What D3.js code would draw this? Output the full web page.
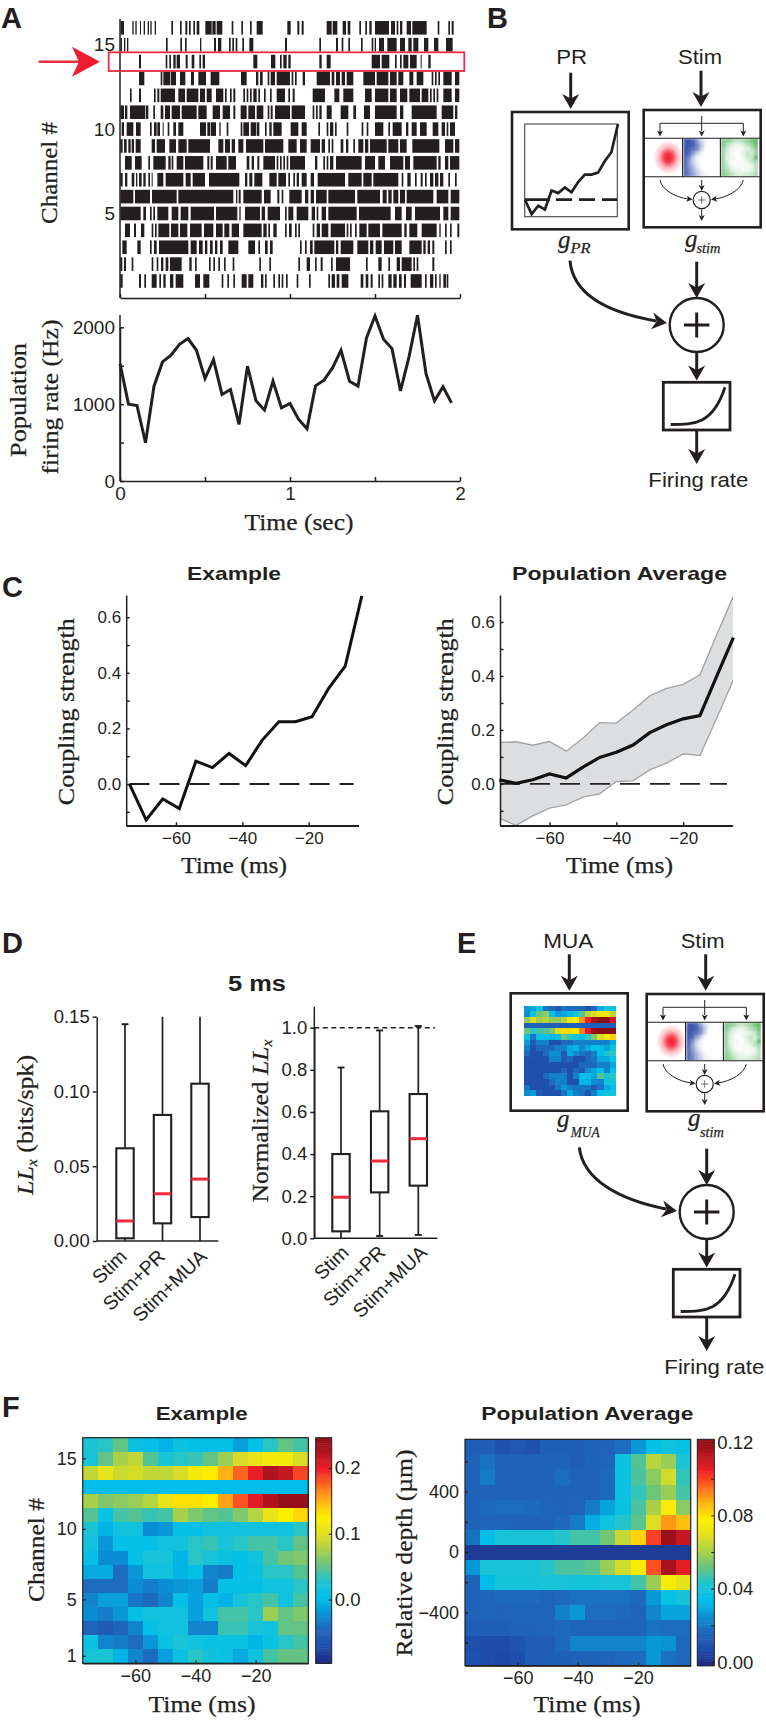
<!DOCTYPE html>
<html>
<head>
<meta charset="utf-8">
<script src="https://cdn.jsdelivr.net/npm/d3@7"></script>
<style>
body { margin: 0; background: #fff; }
svg { display: block; }
</style>
</head>
<body>
<svg id="fig" width="766" height="1720"></svg>
<script>
// raster bursts, start/end sample pairs at 510 Hz, channel 16 first
const SAMPLE_RATE = 510;
const rasterBursts = [
  [2,12,37,41,46,50,60,63,71,75,83,87,91,95,104,108,154,159,180,185,196,202,207,212,220,225,230,238,256,275,277,287,290,307,335,340,364,369,390,395,410,428,502,512,532,538,545,551,620,635,638,652,668,678,683,691,718,723,736,741,748,755,765,807,813,825,830,835,840,847,860,873,877,920,953,958,985,990,995,1001],
  [2,6,12,16,21,25,138,143,181,186,195,200,240,244,282,288,294,304,327,332,337,342,347,352,367,372,388,400,495,501,598,603,648,654,665,670,685,690,723,728,755,760,764,768,777,792,802,830,840,855,865,875,880,895,912,925,942,955,978,998],
  [57,63,137,142,148,153,160,167,170,180,197,203,215,223,238,243,248,255,400,412,453,466,480,485,490,500,505,512,598,605,620,632,755,780,785,808,825,830,840,845,850,865,870,890,902,905,925,932],
  [57,73,122,127,130,150,152,168,180,196,213,222,235,258,272,298,363,380,408,415,420,428,443,448,452,465,470,510,515,520,525,530,548,555,590,630,635,643,648,660,665,675,680,700,730,765,770,805,810,830,835,850,868,880,890,910,935,940,945,950,955,960,970,995,1005,1018],
  [30,35,57,63,102,107,112,118,122,165,175,195,200,235,240,255,260,275,288,310,315,320,330,335,340,346,370,375,380,385,390,395,400,410,415,420,432,437,450,455,470,495,505,510,518,524,578,615,643,658,670,700,735,755,765,805,810,830,840,862,868,900,905,925,930,935,940,945,950,955,970,995,1005,1018],
  [1,12,15,22,30,75,77,85,100,105,122,130,135,150,155,180,185,230,235,260,278,300,308,330,340,346,362,380,385,405,410,430,443,448,452,458,465,510,515,555,578,583,588,593,598,605,620,635,662,685,700,708,732,750,765,830,840,850,875,950,965,1000,1005,1012],
  [5,12,20,40,48,62,90,95,102,110,112,120,128,131,143,148,160,168,175,190,240,258,262,270,272,288,298,302,320,325,362,367,370,387,392,408,410,418,435,440,448,455,460,485,512,535,545,560,595,600,620,625,630,640,645,650,680,685,725,730,740,745,765,790,805,810,818,845,858,865,875,890,900,920,938,955,965,975,980,985,990,1005],
  [1,8,12,20,25,32,35,42,47,62,95,105,110,135,148,168,175,200,205,270,295,310,315,330,335,345,355,370,378,430,435,490,505,530,540,560,572,600,605,615,625,630,635,640,662,670,678,685,700,705,715,730,735,745,750,800,805,835,840,860,877,958,975,1000,1005,1018],
  [15,35,45,65,85,90,100,137,145,152,155,160,170,190,195,250,262,268,272,278,288,320,325,348,380,388,395,402,412,418,430,465,470,475,480,485,490,495,500,505,510,555,585,592,610,615,620,625,630,640,648,725,735,765,775,795,810,850,855,870,880,950,955,962,975,985,990,1018],
  [1,8,15,22,35,43,48,52,57,65,70,77,85,90,95,98,112,130,137,190,197,212,218,255,267,358,375,382,388,397,403,427,448,470,475,498,505,510,520,525,530,537,545,560,572,582,593,675,685,725,730,755,760,835,845,850,862,872,885,890,902,908,915,920,930,940,945,955,960,970,985,990,1005,1010],
  [1,40,45,90,96,170,175,340,348,352,356,362,370,425,432,452,472,478,485,490,508,545,555,565,572,582,588,620,625,705,712,780,788,800,805,815,820,835,840,855,860,940,950,985,992,1018],
  [1,62,70,78,90,95,100,105,112,145,155,175,182,205,212,282,288,352,358,362,375,420,425,435,443,480,495,500,505,520,530,565,575,585,590,595,605,618,625,710,717,812,825,845,858,875,885,960,970,985,992,1018],
  [15,30,42,48,63,73,95,100,105,110,115,148,153,175,180,202,210,245,252,280,288,308,313,328,335,357,370,425,430,440,445,450,460,470,495,500,507,515,525,530,535,540,578,583,590,600,605,625,632,675,680,685,690,695,705,710,718,740,745,780,787,845,853,860,868,892,905,950,958,962,975,980,990,995,1012,1018],
  [7,20,52,62,90,95,102,110,117,205,212,230,237,248,255,262,270,278,285,292,300,308,325,355,385,405,415,420,435,443,450,458,540,545,555,560,570,578,583,643,648,655,662,700,712,745,750,760,767,785,792,820,825,845,868,905,910,917,923,930,937,943,975,980,990,995],
  [1,7,12,18,35,40,95,100,110,115,123,130,137,145,150,185,208,215,225,230,267,272,280,285,295,300,312,317,338,343,418,423,448,453,535,540,560,570,585,590,602,608,633,638,648,690,738,743,775,785,805,810,830,840,845,875,880,885,890,895,937,943],
  [1,8,57,63,73,78,95,110,118,123,130,137,150,160,167,190,225,240,250,268,305,310,322,327,340,345,365,380,385,400,423,430,435,440,460,465,475,480,485,490,498,503,530,535,567,572,625,630,635,645,650,658,665,685,722,730,737,745,752,758,775,780,785,790,805,815,820,830,837,845,852,858,872,905,915,920,930,940,945,950,958,962,970,978,980,985]
];

// population firing rate, one value per 50 ms
const rateTime = d3.range(0, 40).map(i => i * 0.05);
const rateHz = [1528,1000,983,498,1234,1550,1636,1779,1853,1701,1333,1580,1126,1190,736,1494,1043,922,1299,952,1009,805,680,1238,1312,1472,1701,1299,1234,1861,2147,1844,1723,1173,1615,2156,1398,1043,1225,1017];

// coupling strength, example neuron
const couplingExTime = [-74,-69,-64,-59,-54,-49,-44,-39,-34,-29,-24,-19,-14,-9,-4];
const couplingEx = [0,-0.129,-0.054,-0.088,0.082,0.059,0.110,0.066,0.158,0.224,0.224,0.242,0.344,0.424,0.677];

// coupling strength, population
const couplingAvgTime = [-75,-70,-65,-60,-55,-50,-45,-40,-35,-30,-25,-20,-15,-10,-5];
const couplingAvg = [0.015,0.002,0.015,0.037,0.022,0.062,0.098,0.117,0.144,0.19,0.219,0.241,0.253,0.398,0.542];
const couplingHi = [0.153,0.156,0.143,0.157,0.121,0.169,0.227,0.225,0.274,0.326,0.354,0.369,0.404,0.552,0.696];
const couplingLo = [-0.127,-0.154,-0.119,-0.09,-0.078,-0.049,-0.037,0.009,0.011,0.052,0.077,0.111,0.105,0.243,0.385];

// box plots of panel D
const modelNames = ["Stim", "Stim+PR", "Stim+MUA"];
const llTop = [0.145, 0.15, 0.15];
const llQ3 = [0.062, 0.0843, 0.1052];
const llMed = [0.0134, 0.0316, 0.0414];
const llQ1 = [0.0018, 0.0118, 0.016];
const llLow = [0, 0, 0];
const normTop = [0.811, 0.987, 1.008];
const normQ3 = [0.40, 0.603, 0.685];
const normMed = [0.195, 0.367, 0.473];
const normQ1 = [0.033, 0.218, 0.25];
const normLow = [0, 0.011, 0.016];

// heat map time bins (ms, bin centres)
const heatTimes = [-75,-70,-65,-60,-55,-50,-45,-40,-35,-30,-25,-20,-15,-10,-5];

// panel F left, channel 16 first
const heatChannels = [16,15,14,13,12,11,10,9,8,7,6,5,4,3,2,1];
const heatExample = [
  [.025,.03,.05,.01,.005,-.005,.01,.005,.005,.005,-.015,.005,.03,.05,.04],
  [.02,.05,.075,.085,.045,.025,.03,.035,.05,.07,.095,.105,.115,.115,.095],
  [.085,.105,.09,.095,.085,.085,.095,.115,.125,.15,.175,.2,.225,.215,.185],
  [0,0,0,0,0,0,0,0,0,0,0,0,0,0,0],
  [.075,.06,.065,.07,.08,.105,.13,.13,.12,.155,.18,.205,.225,.24,.24],
  [.045,.01,.04,.045,.035,.04,.075,.06,.05,.045,.06,.08,.105,.12,.135],
  [.025,-.005,.015,.015,-.025,-.02,.005,.005,.015,.015,.015,.015,.015,.015,.03],
  [.015,-.02,.005,.005,.005,.015,.015,.03,.035,.02,.03,.04,.04,.03,.05],
  [.005,-.025,-.025,.005,.02,.02,-.005,.03,.02,.01,.005,.015,.04,.055,.06],
  [-.01,-.01,-.045,-.02,.015,.015,-.005,.005,-.03,-.035,.005,.01,.03,.03,.045],
  [-.045,-.045,-.045,-.025,-.035,-.025,-.02,-.015,-.035,.005,.005,.005,.015,.015,.03],
  [-.03,-.015,-.015,-.04,-.045,-.03,.005,-.015,.005,-.005,.02,.03,.04,.015,.04],
  [-.025,-.035,-.02,.005,.015,.015,.015,-.015,.015,.04,.04,.03,.07,.05,.06],
  [-.05,-.06,-.05,-.03,.005,.015,.015,-.03,-.03,.035,.035,.02,.015,.05,.05],
  [.01,-.03,-.035,-.045,-.02,.01,.025,.015,.01,.01,.01,-.005,.01,.03,.04],
  [.02,.025,-.005,-.03,-.045,-.015,.01,.03,.015,.01,-.01,.015,.04,.05,.05]
];

// panel F right, depth in um, top row first
const heatDepths = [700,600,500,400,300,200,100,0,-100,-200,-300,-400,-500,-600,-700];
const heatPopulation = [
  [.013,.012,.008,.010,.008,.013,.013,.013,.014,.014,.017,.026,.035,.038,.036],
  [.014,.018,.014,.014,.014,.014,.014,.012,.014,.015,.037,.049,.062,.058,.042],
  [.014,.020,.014,.014,.014,.014,.017,.014,.014,.016,.037,.048,.056,.066,.045],
  [.014,.014,.014,.014,.014,.014,.014,.014,.014,.016,.037,.045,.052,.058,.047],
  [.014,.016,.017,.017,.016,.015,.014,.015,.020,.028,.036,.048,.060,.075,.056],
  [.014,.015,.015,.014,.014,.014,.016,.020,.030,.038,.043,.050,.068,.090,.085],
  [.018,.034,.041,.041,.041,.041,.043,.047,.047,.053,.064,.082,.100,.118,.110],
  [.002,.002,.002,.002,.002,.002,.002,.002,.002,.002,.002,.002,.002,.002,.002],
  [.026,.041,.041,.041,.041,.043,.048,.048,.050,.058,.066,.076,.098,.115,.106],
  [.014,.033,.040,.040,.040,.041,.041,.040,.040,.041,.041,.047,.058,.075,.070],
  [.014,.015,.016,.016,.016,.015,.016,.018,.018,.018,.018,.016,.026,.036,.040],
  [.014,.015,.014,.015,.015,.015,.021,.026,.017,.017,.016,.015,.022,.028,.028],
  [.013,.013,.013,.014,.014,.015,.016,.015,.015,.015,.015,.015,.018,.017,.017],
  [.007,.006,.006,.009,.012,.012,.016,.022,.022,.022,.022,.022,.026,.025,.016],
  [.008,.006,.005,.007,.012,.012,.013,.014,.014,.015,.016,.017,.026,.018,.016]
];

// receptive field tiles of the schematic
const blueTile = [
  [.9,.9,.8,.5,.2,.05,0,0,.05],[.9,.9,.85,.6,.3,.05,0,0,.05],[.9,.85,.75,.6,.2,0,0,0,0],
  [.9,.8,.5,.25,.05,0,0,0,0],[.85,.6,.25,.05,0,0,0,0,0],[.8,.5,.2,.05,0,0,0,0,0],
  [.8,.55,.3,.1,0,0,0,0,0],[.8,.6,.4,.2,.05,0,0,0,0],[.8,.65,.45,.25,.1,.05,.02,0,0]
];
const greenTile = [
  [.6,.6,.5,.35,.3,.4,.5,.7,.8],[.6,.35,.2,.1,.1,.2,.35,.5,.7],[.5,.25,.1,.05,.05,.1,.15,.3,.6],
  [.5,.2,.05,0,.05,.15,.3,.2,.5],[.5,.15,.1,.05,0,.1,.25,.3,.8],[.5,.2,.05,.02,.05,.05,.1,.3,.4],
  [.5,.3,.1,.02,.05,.05,.05,.1,.35],[.55,.4,.2,.1,.1,.05,.1,.15,.35],[.6,.5,.35,.2,.15,.2,.2,.3,.4]
];

const jetStops = ['#1f2a85','#1f4fae','#1f66bc','#0a90d4','#00bfea','#1cc4d4','#62c384','#a8d04a','#e0e020','#fff000','#ffb812','#ff6a1e','#f02028','#b5141e','#8a0f16'];
const jet = d3.piecewise(d3.interpolateRgb, jetStops);

const INK = "#231f20", RED = "#ee2a3c";
const SANS = "'Liberation Sans', Arial, sans-serif", SERIF = "'Liberation Serif', 'Times New Roman', serif";
const svg = d3.select("#fig");

svg.append("defs").html(`
  <filter id="soft" x="-10%" y="-10%" width="120%" height="120%"><feGaussianBlur stdDeviation="0.9"/></filter>
  <radialGradient id="redSpot"><stop offset="0" stop-color="#ee1c2e"/><stop offset="0.28" stop-color="#f4404e"/><stop offset="0.62" stop-color="#fbbcc2"/><stop offset="1" stop-color="#fff"/></radialGradient>`);

// text helper, len squeezes or stretches the glyphs to the measured width
function label(str, x, y, o = {}) {
  const t = svg.append("text")
    .attr("transform", `translate(${x},${y}) rotate(${o.rotate || 0})`)
    .attr("font-family", o.family || SANS)
    .attr("font-size", o.size || 18)
    .attr("font-weight", o.weight || "normal")
    .attr("font-style", o.italic ? "italic" : "normal")
    .attr("text-anchor", o.anchor || "middle")
    .attr("fill", INK)
    .text(str);
  if (o.family === SERIF) t.attr("stroke", INK).attr("stroke-width", 0.25);
  if (o.len) t.attr("textLength", o.len).attr("lengthAdjust", "spacingAndGlyphs");
  return t;
}

function styleAxis(g, size, width = 1.5) {
  g.selectAll("text").attr("font-family", SANS).attr("font-size", size).attr("fill", INK);
  g.selectAll("line").attr("stroke", INK).attr("stroke-width", width);
  g.select(".domain").attr("stroke", INK).attr("stroke-width", width);
  return g;
}

function addAxis(axis, x, y, size, width) {
  return styleAxis(svg.append("g").attr("transform", `translate(${x},${y})`).call(axis), size, width);
}

// line with a barbed head, head tip sits at (x2,y2)
function head(x, y, angle, size = 1) {
  svg.append("path")
    .attr("d", `M0,0L${-15 * size},${-8.5 * size}L${-10.5 * size},0L${-15 * size},${8.5 * size}Z`)
    .attr("transform", `translate(${x},${y}) rotate(${angle})`)
    .attr("fill", INK);
}
function downArrow(x, y1, y2, width = 3, size = 1) {
  svg.append("line").attr("x1", x).attr("x2", x).attr("y1", y1).attr("y2", y2 - 8 * size)
    .attr("stroke", INK).attr("stroke-width", width);
  head(x, y2, 90, size);
}
function curve(d, width) {
  svg.append("path").attr("d", d).attr("fill", "none").attr("stroke", INK).attr("stroke-width", width);
}
function box(x, y, w, h, width = 2.6) {
  svg.append("rect").attr("x", x).attr("y", y).attr("width", w).attr("height", h)
    .attr("fill", "#fff").attr("stroke", INK).attr("stroke-width", width);
}

/* ---------- panel A ---------- */
label("A", 1, 28, { size: 29, weight: "bold", anchor: "start" });
const xRaster = d3.scaleLinear().domain([0, 2]).range([120, 460]);
const yChannel = d3.scaleLinear().domain([1, 15]).range([281, 44.7]);

rasterBursts.forEach((flat, i) => {
  const ch = 16 - i;
  const pairs = d3.range(0, flat.length, 2).map(k => [flat[k], flat[k + 1]]);
  svg.append("g").selectAll("rect").data(pairs).join("rect")
    .attr("x", d => xRaster(d[0] / SAMPLE_RATE))
    .attr("width", d => xRaster(d[1] / SAMPLE_RATE) - xRaster(d[0] / SAMPLE_RATE))
    .attr("y", yChannel(ch) - 6.8)
    .attr("height", 13.6)
    .attr("fill", INK);
});
svg.append("line").attr("x1", 120).attr("x2", 120).attr("y1", 19).attr("y2", 298).attr("stroke", INK).attr("stroke-width", 1.5);
addAxis(d3.axisBottom(xRaster).tickValues([0, 0.5, 1, 1.5, 2]).tickSizeInner(-4).tickSizeOuter(0).tickFormat(""), 0, 298, 18);
[15, 10, 5].forEach(c => label(c, 115, yChannel(c) + 6.5, { size: 19, anchor: "end" }));
label("Channel #", 57, 173, { size: 24, family: SERIF, rotate: -90, len: 102 });

// red highlight on channel 14
svg.append("rect").attr("x", 108.7).attr("y", 52.3).attr("width", 355.6).attr("height", 18.7)
  .attr("fill", "none").attr("stroke", RED).attr("stroke-width", 1.8);
svg.append("line").attr("x1", 38.7).attr("x2", 80).attr("y1", 61.7).attr("y2", 61.7).attr("stroke", RED).attr("stroke-width", 2.4);
svg.append("path").attr("d", "M0,0L-28,-15L-21,0L-28,15Z").attr("transform", "translate(100,61.7)").attr("fill", "#ee1c2e");

const xRate = d3.scaleLinear().domain([0, 2]).range([120, 460]);
const yRate = d3.scaleLinear().domain([0, 2000]).range([481, 327.3]);
svg.append("line").attr("x1", 120).attr("x2", 120).attr("y1", 315).attr("y2", 481).attr("stroke", INK).attr("stroke-width", 1.5);
addAxis(d3.axisLeft(yRate).tickValues([0, 500, 1000, 1500, 2000]).tickSizeInner(-4).tickSizeOuter(0).tickPadding(5)
  .tickFormat(d => d % 1000 === 0 ? d : ""), 120, 0, 19);
addAxis(d3.axisBottom(xRate).tickValues([0, 0.5, 1, 1.5, 2]).tickSizeInner(-4).tickSizeOuter(0).tickPadding(6)
  .tickFormat(d => d % 1 === 0 ? d : ""), 0, 481, 19);
svg.append("path").attr("fill", "none").attr("stroke", INK).attr("stroke-width", 3).attr("stroke-linejoin", "miter")
  .attr("d", d3.line().x((d, i) => xRate(rateTime[i])).y(d => yRate(d))(rateHz));
label("Population", 26, 400, { size: 23, family: SERIF, rotate: -90, len: 114 });
label("firing rate (Hz)", 58, 397, { size: 23, family: SERIF, rotate: -90, len: 155 });
label("Time (sec)", 299, 530, { size: 23, family: SERIF, len: 109 });

/* ---------- schematic pieces of panels B and E ---------- */
function stimBox(dx, dy) {
  const g = svg.append("g").attr("transform", `translate(${dx},${dy})`);
  g.append("rect").attr("x", 643.7).attr("y", 110).attr("width", 117).attr("height", 117.3)
    .attr("fill", "#fff").attr("stroke", INK).attr("stroke-width", 2.6);

  // tiles
  const tileXs = [645.7, 683.3, 721];
  g.append("ellipse").attr("cx", 668.3).attr("cy", 157.5).attr("rx", 15).attr("ry", 17).attr("fill", "url(#redSpot)");
  [[blueTile, "#2846a8", 1], [greenTile, "#38a844", 2]].forEach(([m, col, k]) => {
    const tx = d3.scaleBand().domain(d3.range(9)).range([tileXs[k], tileXs[k] + 37]);
    const ty = d3.scaleBand().domain(d3.range(9)).range([138.5, 176.5]);
    const shade = d3.interpolateRgb("#fff", col);
    const cp = g.append("clipPath").attr("id", `tile${dx}${k}`);
    cp.append("rect").attr("x", tileXs[k]).attr("y", 138.5).attr("width", 37).attr("height", 38);
    const tile = g.append("g").attr("clip-path", `url(#tile${dx}${k})`).append("g").attr("filter", "url(#soft)");
    m.forEach((row, r) => tile.selectAll(null).data(row).join("rect")
      .attr("x", (d, c) => tx(c)).attr("y", ty(r)).attr("width", tx.bandwidth() + 0.6).attr("height", ty.bandwidth() + 0.6)
      .attr("fill", d => shade(d)));
  });
  g.append("path").attr("d", "M643.7,138.3H760.7M643.7,176.7H760.7M682.6,138.3V176.7M720.4,138.3V176.7")
    .attr("stroke", INK).attr("stroke-width", 1.1).attr("fill", "none");

  // small arrows
  const thin = d => g.append("path").attr("d", d).attr("fill", "none").attr("stroke", INK).attr("stroke-width", 1);
  const tip = (x, y, a) => g.append("path").attr("d", "M0,0L-6,-3L-4.5,0L-6,3Z").attr("transform", `translate(${x},${y}) rotate(${a})`).attr("fill", INK);
  thin("M701.7,116V131M660,132V123.3H743.3V132");
  tip(660, 136.5, 90); tip(701.7, 136.5, 90); tip(743.3, 136.5, 90);
  thin("M701.7,180V186M701.7,209.3V216");
  tip(701.7, 191, 90); tip(701.7, 221, 90);
  thin("M660,180C662,190 675,197 688,199");
  thin("M743.3,180C741,190 728,197 715,199");
  tip(692.5, 199.5, 8); tip(711, 199.5, 172);
  g.append("circle").attr("cx", 701.7).attr("cy", 200).attr("r", 8.6).attr("fill", "#fff").attr("stroke", INK).attr("stroke-width", 1.2);
  g.append("path").attr("d", "M698,200H705.4M701.7,196.3V203.7").attr("stroke", "#666").attr("stroke-width", 0.9);
}

function outputStage(dx, dy, labelDx) {
  downArrow(696.7 + dx, 261.7 + dy, 298 + dy);
  svg.append("circle").attr("cx", 696.7 + dx).attr("cy", 325 + dy).attr("r", 27).attr("fill", "#fff").attr("stroke", INK).attr("stroke-width", 2.4);
  svg.append("path").attr("d", `M${684 + dx},${325 + dy}H${709.4 + dx}M${696.7 + dx},${312.5 + dy}V${337.5 + dy}`).attr("stroke", INK).attr("stroke-width", 3);
  downArrow(696.7 + dx, 352 + dy, 380.5 + dy);
  box(663.3 + dx, 382.3 + dy, 66.7, 47.7, 2.8);
  curve(`M${670.7 + dx},${424.5 + dy}C${695 + dx},${424.5 + dy} ${713 + dx},${424 + dy} ${725 + dx},${387.3 + dy}`, 2.8);
  downArrow(696.7 + dx, 430 + dy, 464 + dy);
  label("Firing rate", 698.3 + labelDx, 486.7 + dy, { size: 21, len: 100 });
}

function gLabel(sub, gx, gy, subx, suby, len) {
  label("g", gx, gy, { family: SERIF, italic: true, size: 25, anchor: "start" });
  label(sub, subx, suby, { family: SERIF, italic: true, size: 15, anchor: "start", len });
}

/* ---------- panel B ---------- */
label("B", 487, 28, { size: 29, weight: "bold", anchor: "start" });
label("PR", 571.7, 64, { size: 20, len: 31 });
label("Stim", 700, 64, { size: 20, len: 44 });
downArrow(570.7, 72.7, 109);
downArrow(701, 70.7, 107);
box(512, 112, 116.7, 117.3);
svg.append("rect").attr("x", 524.7).attr("y", 124).attr("width", 92.6).attr("height", 92.7).attr("fill", "none").attr("stroke", "#444").attr("stroke-width", 1.1);
const xInset = d3.scaleLinear().domain([-74, -4]).range([525, 618]);
const yInset = d3.scaleLinear().domain([0, 0.677]).range([199.7, 124]);
svg.append("line").attr("x1", 525).attr("x2", 617).attr("y1", yInset(0)).attr("y2", yInset(0))
  .attr("stroke", INK).attr("stroke-width", 2.8).attr("stroke-dasharray", "25 6 16 7 16 7 16");
svg.append("path").attr("fill", "none").attr("stroke", INK).attr("stroke-width", 2.7)
  .attr("d", d3.line().x((d, i) => xInset(couplingExTime[i])).y(d => yInset(d))(couplingEx));
stimBox(0, 0);
gLabel("PR", 558, 248, 570.5, 253.3, 20);
gLabel("stim", 685, 246.5, 696.5, 253, 24);
curve("M570,260.7C573,296 610,313 656,321", 3);
head(667, 323, 8);
outputStage(0, 0, 0);

/* ---------- panel C ---------- */
label("C", 2, 597, { size: 29, weight: "bold", anchor: "start" });

const xCoupEx = d3.scaleLinear().domain([-75, -5]).range([126.2, 358.5]);
const yCoupEx = d3.scaleLinear().domain([-0.15, 0.68]).range([825.7, 595]);
const xCoupAvg = d3.scaleLinear().domain([-74.8, -5.2]).range([500, 732.7]);
const yCoupAvg = d3.scaleLinear().domain([-0.155, 0.7]).range([825.7, 595]);

function couplingAxes(x, y, left, right) {
  addAxis(d3.axisLeft(y).tickValues([-0.1, 0, 0.1, 0.2, 0.3, 0.4, 0.5, 0.6]).tickSizeInner(-3.5).tickSizeOuter(0).tickPadding(5)
    .tickFormat(d => Math.round(d * 10) % 2 === 0 ? d3.format(".1f")(d) : ""), left, 0, 17);
  addAxis(d3.axisBottom(x).tickValues([-60, -40, -20]).tickSizeInner(-3.5).tickSizeOuter(0).tickPadding(6), 0, 825.7, 17);
  svg.append("line").attr("x1", x(x.domain()[0])).attr("x2", right).attr("y1", 825.7).attr("y2", 825.7).attr("stroke", INK).attr("stroke-width", 1.5);
}

couplingAxes(xCoupEx, yCoupEx, 126.2, 359);
svg.append("line").attr("x1", xCoupEx(-74)).attr("x2", xCoupEx(-6.5)).attr("y1", yCoupEx(0)).attr("y2", yCoupEx(0))
  .attr("stroke", INK).attr("stroke-width", 2).attr("stroke-dasharray", "20 10");
svg.append("path").attr("fill", "none").attr("stroke", "#111").attr("stroke-width", 3)
  .attr("d", d3.line().x((d, i) => xCoupEx(couplingExTime[i])).y(d => yCoupEx(d))(couplingEx));

const clip = svg.append("clipPath").attr("id", "avgClip");
clip.append("rect").attr("x", 500).attr("y", 595).attr("width", 233).attr("height", 230.7);
const band = svg.append("g").attr("clip-path", "url(#avgClip)");
band.append("path").attr("fill", "#dcdee0")
  .attr("d", d3.area().x((d, i) => xCoupAvg(couplingAvgTime[i])).y0((d, i) => yCoupAvg(couplingLo[i])).y1(d => yCoupAvg(d))(couplingHi));
[couplingHi, couplingLo].forEach(s => band.append("path").attr("fill", "none").attr("stroke", "#a3a5a7").attr("stroke-width", 1.4)
  .attr("d", d3.line().x((d, i) => xCoupAvg(couplingAvgTime[i])).y(d => yCoupAvg(d))(s)));
couplingAxes(xCoupAvg, yCoupAvg, 500, 732.7);
svg.append("line").attr("x1", 500).attr("x2", 727).attr("y1", yCoupAvg(0)).attr("y2", yCoupAvg(0))
  .attr("stroke", INK).attr("stroke-width", 1.8).attr("stroke-dasharray", "20 10");
svg.append("path").attr("fill", "none").attr("stroke", "#111").attr("stroke-width", 3.2)
  .attr("d", d3.line().x((d, i) => xCoupAvg(couplingAvgTime[i])).y(d => yCoupAvg(d))(couplingAvg));

label("Example", 234, 580, { size: 19, weight: "bold", len: 94 });
label("Population Average", 619.5, 580, { size: 19, weight: "bold", len: 215 });
label("Coupling strength", 74, 711.7, { size: 23, family: SERIF, rotate: -90, len: 187 });
label("Coupling strength", 453, 711.7, { size: 23, family: SERIF, rotate: -90, len: 187 });
label("Time (ms)", 234, 873, { size: 23, family: SERIF, len: 106 });
label("Time (ms)", 619.6, 873, { size: 23, family: SERIF, len: 107 });

/* ---------- panel D ---------- */
label("D", 2, 953, { size: 29, weight: "bold", anchor: "start" });
label("E", 457, 953, { size: 29, weight: "bold", anchor: "start" });
label("5 ms", 257, 991, { size: 22, weight: "bold", len: 58 });

function boxPlot(x, y, top, q3, med, q1, low, capTop) {
  modelNames.forEach((m, i) => {
    const cx = x(m), hw = 8.7;
    const g = svg.append("g");
    g.append("line").attr("x1", cx).attr("x2", cx).attr("y1", y(top[i])).attr("y2", y(low[i])).attr("stroke", INK).attr("stroke-width", 1.7);
    if (capTop[i]) g.append("line").attr("x1", cx - 3.5).attr("x2", cx + 3.5).attr("y1", y(top[i])).attr("y2", y(top[i])).attr("stroke", INK).attr("stroke-width", 1.9);
    if (low[i] > 0) g.append("line").attr("x1", cx - 3.5).attr("x2", cx + 3.5).attr("y1", y(low[i])).attr("y2", y(low[i])).attr("stroke", INK).attr("stroke-width", 1.9);
    g.append("rect").attr("x", cx - hw).attr("width", 2 * hw).attr("y", y(q3[i])).attr("height", y(q1[i]) - y(q3[i]))
      .attr("fill", "#fff").attr("stroke", INK).attr("stroke-width", 2.1);
    g.append("line").attr("x1", cx - hw).attr("x2", cx + hw).attr("y1", y(med[i])).attr("y2", y(med[i])).attr("stroke", RED).attr("stroke-width", 3);
  });
}
function catLabels(x, yEnd, dxs) {
  modelNames.forEach((m, i) => label(m, x(m) + dxs[i], yEnd, { size: 19.5, anchor: "end", rotate: -44 }));
}

const xLL = d3.scalePoint().domain(modelNames).range([125, 200]);
const yLL = d3.scaleLinear().domain([0, 0.15]).range([1241, 1016.7]);
boxPlot(xLL, yLL, llTop, llQ3, llMed, llQ1, llLow, [true, false, false]);
addAxis(d3.axisLeft(yLL).tickValues([0, 0.05, 0.1, 0.15]).tickSizeInner(4).tickSizeOuter(0).tickPadding(3).tickFormat(d3.format(".2f")), 96.7, 0, 18.5);
svg.append("line").attr("x1", 96.7).attr("x2", 218.3).attr("y1", 1241).attr("y2", 1241).attr("stroke", INK).attr("stroke-width", 1.5);
catLabels(xLL, 1258, [3, 4, 8]);

const xNorm = d3.scalePoint().domain(modelNames).range([341, 418.3]);
const yNorm = d3.scaleLinear().domain([0, 1]).range([1238.3, 1027.7]);
svg.append("line").attr("x1", 314.3).attr("x2", 435).attr("y1", yNorm(1)).attr("y2", yNorm(1)).attr("stroke", INK).attr("stroke-width", 1.4).attr("stroke-dasharray", "5 3.5");
boxPlot(xNorm, yNorm, normTop, normQ3, normMed, normQ1, normLow, [true, true, true]);
svg.append("line").attr("x1", 314.3).attr("x2", 314.3).attr("y1", 1006.7).attr("y2", 1238.3).attr("stroke", INK).attr("stroke-width", 1.5);
addAxis(d3.axisLeft(yNorm).tickValues([0, 0.2, 0.4, 0.6, 0.8, 1]).tickSizeInner(4).tickSizeOuter(0).tickPadding(3).tickFormat(d3.format(".1f")), 314.3, 0, 18.5);
svg.append("line").attr("x1", 314.3).attr("x2", 437.3).attr("y1", 1238.3).attr("y2", 1238.3).attr("stroke", INK).attr("stroke-width", 1.5);
catLabels(xNorm, 1254, [9, 7, 10]);

function llLabel(before, x, y, len) {
  const t = label("", x, y, { size: 23, family: SERIF, rotate: -90, len });
  if (before) t.append("tspan").text(before);
  t.append("tspan").attr("font-style", "italic").text("LL");
  t.append("tspan").attr("font-style", "italic").attr("font-size", 14).attr("dy", 4).text("x");
  return t;
}
llLabel("", 33, 1125, 140).append("tspan").attr("dy", -4).text(" (bits/spk)");
llLabel("Normalized ", 268, 1121, 163);

/* ---------- panel E ---------- */
label("MUA", 568.3, 948.3, { size: 20, len: 50 });
label("Stim", 702.7, 948.3, { size: 20, len: 44 });
downArrow(569.3, 954.3, 990.7);
downArrow(705.7, 954.3, 990.7);
box(510.7, 993.3, 117, 117.4);

const xMua = d3.scaleBand().domain(heatTimes).range([524.3, 615.7]);
const yMua = d3.scaleBand().domain(heatChannels).range([1005.7, 1096]);
const colorMua = d3.scaleSequential(jet).domain([-0.03, 0.21]).clamp(true);
heatChannels.forEach((c, r) => svg.append("g").selectAll("rect").data(heatExample[r]).join("rect")
  .attr("x", (d, i) => xMua(heatTimes[i])).attr("y", yMua(c))
  .attr("width", xMua.bandwidth() + 0.3).attr("height", yMua.bandwidth() + 0.3)
  .attr("shape-rendering", "crispEdges")
  .attr("fill", d => colorMua(Math.max(d, -0.012))));

stimBox(3, 884);
gLabel("MUA", 557, 1127, 570.7, 1136.7, 29);
gLabel("stim", 688, 1126, 700, 1136.5, 24);
curve("M579.3,1147.3C583,1180 620,1200 666,1209", 3);
head(677, 1211, 8);
outputStage(10, 887, 16);

/* ---------- panel F ---------- */
label("F", 2, 1417, { size: 29, weight: "bold", anchor: "start" });

function heatmap(rows, yBand, x0, x1, y0, y1, color) {
  const x = d3.scaleBand().domain(heatTimes).range([x0, x1]);
  rows.forEach((row, r) => svg.append("g").selectAll("rect").data(row).join("rect")
    .attr("x", (d, i) => x(heatTimes[i])).attr("y", yBand(yBand.domain()[r]))
    .attr("width", x.bandwidth() + 0.4).attr("height", yBand.bandwidth() + 0.4)
    .attr("shape-rendering", "crispEdges")
    .attr("fill", d => color(d)));
  const xTicks = d3.scaleLinear().domain([-77.5, -2.5]).range([x0, x1]);
  addAxis(d3.axisBottom(xTicks).tickValues([-60, -40, -20]).tickSizeInner(-3).tickSizeOuter(0).tickPadding(6), 0, y1, 18, 1.2);
  svg.append("rect").attr("x", x0).attr("y", y0).attr("width", x1 - x0).attr("height", y1 - y0)
    .attr("fill", "none").attr("stroke", INK).attr("stroke-width", 1.2);
}

function colorbar(color, x0, x1, y, ticks, minor, fmt) {
  const [lo, hi] = y.domain();
  const steps = d3.range(0, 120).map(i => lo + (hi - lo) * i / 120);
  svg.append("g").selectAll("rect").data(steps).join("rect")
    .attr("x", x0).attr("width", x1 - x0)
    .attr("y", d => y(d + (hi - lo) / 120)).attr("height", (y.range()[0] - y.range()[1]) / 120 + 0.5)
    .attr("fill", d => color(d));
  svg.append("rect").attr("x", x0).attr("y", y.range()[1]).attr("width", x1 - x0).attr("height", y.range()[0] - y.range()[1])
    .attr("fill", "none").attr("stroke", INK).attr("stroke-width", 1);
  const ax = addAxis(d3.axisRight(y).tickValues(minor).tickSizeInner(-3).tickSizeOuter(0).tickFormat(""), x1, 0, 18, 1);
  ax.select(".domain").remove();
  ticks.forEach(t => label(fmt(t), x1 + 3, y(t) + 6.5, { size: 18.5, anchor: "start" }));
}

const yExample = d3.scaleBand().domain(heatChannels).range([1437.7, 1663.3]);
const colorExample = d3.scaleSequential(jet).domain([-0.097, 0.246]);
heatmap(heatExample, yExample, 82.7, 308.3, 1437.7, 1663.3, colorExample);
addAxis(d3.axisLeft(yExample).tickValues([15, 10, 5, 1]).tickSizeInner(-3).tickSizeOuter(0).tickPadding(6), 82.7, 0, 18, 1.2).select(".domain").remove();
colorbar(colorExample, 315.7, 331.7, d3.scaleLinear().domain([-0.097, 0.246]).range([1663.3, 1437.7]), [0, 0.1, 0.2], [0, 0.1, 0.2], d3.format(".1f"));

const yDepth = d3.scaleBand().domain(heatDepths).range([1439.3, 1665.7]);
const colorPopulation = d3.scaleSequential(jet).domain([-0.002, 0.1215]);
heatmap(heatPopulation, yDepth, 465, 690.7, 1439.3, 1665.7, colorPopulation);
addAxis(d3.axisLeft(yDepth).tickValues([600, 400, 200, 0, -200, -400, -600]).tickSizeInner(-3).tickSizeOuter(0).tickPadding(6)
  .tickFormat(d => Math.abs(d) === 200 || Math.abs(d) === 600 ? "" : d3.format("d")(d)), 465, 0, 18, 1.2).select(".domain").remove();
colorbar(colorPopulation, 697.3, 714.3, d3.scaleLinear().domain([-0.002, 0.1215]).range([1665.7, 1439.3]), [0, 0.04, 0.08, 0.12], [0, 0.02, 0.04, 0.06, 0.08, 0.1, 0.12], d3.format(".2f"));

label("Example", 201.7, 1420, { size: 19, weight: "bold", len: 92 });
label("Population Average", 587.3, 1420, { size: 19, weight: "bold", len: 212 });
label("Channel #", 44, 1550, { size: 24, family: SERIF, rotate: -90, len: 104 });
label("Relative depth (\u00b5m)", 412, 1553, { size: 23, family: SERIF, rotate: -90, len: 207 });
label("Time (ms)", 202, 1711.7, { size: 23, family: SERIF, len: 107 });
label("Time (ms)", 587, 1711.7, { size: 23, family: SERIF, len: 107 });
</script>
</body>
</html>
